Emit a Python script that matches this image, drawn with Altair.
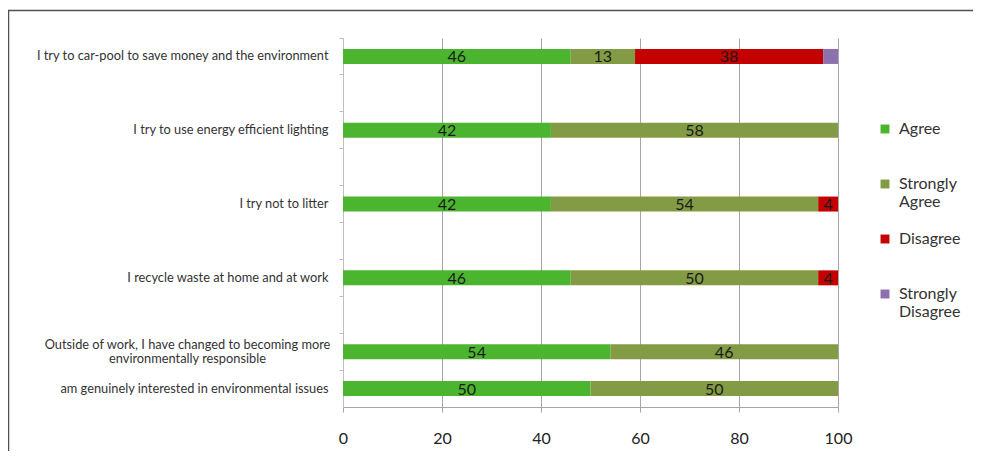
import altair as alt
import pandas as pd

categories = [
    "I try to car-pool to save money and the environment",
    "blank1",
    "I try to use energy efficient lighting",
    "blank2",
    "I try not to litter",
    "blank3",
    "I recycle waste at home and at work",
    "blank4",
    "Outside of work, I have changed to becoming more|environmentally responsible",
    "am genuinely interested in environmental issues",
]
responses = ["Agree", "Strongly Agree", "Disagree", "Strongly Disagree"]
agree = [46, 0, 42, 0, 42, 0, 46, 0, 54, 50]
strongly_agree = [13, 0, 58, 0, 54, 0, 50, 0, 46, 50]
disagree = [38, 0, 0, 0, 4, 0, 4, 0, 0, 0]
strongly_disagree = [3, 0, 0, 0, 0, 0, 0, 0, 0, 0]
colors = ["#4BB52F", "#839B45", "#C40000", "#8B71AE"]

series = [agree, strongly_agree, disagree, strongly_disagree]
rows = []
for ci, cat in enumerate(categories):
    for ri, resp in enumerate(responses):
        v = series[ri][ci]
        if v:
            rows.append({"category": cat, "response": resp, "order": ri, "value": v})
df = pd.DataFrame(rows)

W, H = 495, 369

base = alt.Chart(df).transform_stack(
    stack="value", groupby=["category"], as_=["x0", "x1"],
    sort=[alt.SortField("order", order="ascending")],
)

yscale = alt.Scale(domain=categories, paddingInner=0, paddingOuter=0)

label_expr = (
    "indexof(datum.label, 'blank') == 0 ? '' : "
    "(indexof(datum.label, '|') > 0 ? split(datum.label, '|') : datum.label)"
)
multi = "indexof(datum.value, '|') > 0"

yenc = alt.Y(
    "category:N",
    scale=yscale,
    axis=alt.Axis(
        title=None,
        labelExpr=label_expr,
        bandPosition=0,
        tickSize=4,
        tickColor="#BFBFBF",
        domainColor="#BFBFBF",
        labelFont="Lato",
        labelFontSize=12.8,
        labelColor="#333333",
        labelPadding={"condition": {"test": multi, "value": 152}, "value": 11},
        labelAlign={"condition": {"test": multi, "value": "center"}, "value": "right"},
        labelLimit=400,
        labelOffset={"condition": {"test": multi, "value": -7}, "value": 0},
        grid=False,
    ),
)

xscale = alt.Scale(domain=[0, 100], nice=False)

bars = base.mark_bar(height=15).encode(
    x=alt.X(
        "x0:Q",
        scale=xscale,
        axis=alt.Axis(
            title=None,
            values=[0, 20, 40, 60, 80, 100],
            grid=True,
            gridColor="#A6A6A6",
            domainColor="#A6A6A6",
            tickColor="#A6A6A6",
            tickSize=5,
            labelFont="Lato",
            labelFontSize=16,
            labelColor="#222222",
            labelPadding=18,
            labelFlush=False,
        ),
    ),
    x2="x1:Q",
    y=yenc,
    color=alt.Color(
        "response:N",
        scale=alt.Scale(domain=responses, range=colors),
        legend=alt.Legend(
            orient="none",
            legendX=534,
            legendY=83,
            title=None,
            labelExpr="indexof(datum.label, ' ') > 0 ? split(datum.label, ' ') : [datum.label, ' ']",
            symbolType="square",
            symbolSize=80,
            symbolStrokeWidth=0,
            labelFont="Lato",
            labelFontSize=16,
            labelColor="#333333",
            rowPadding=21,
            labelOffset=6,
        ),
    ),
)

labels = base.transform_calculate(
    mid="(datum.x0 + datum.x1) / 2"
).transform_filter("datum.value >= 4").mark_text(
    font="Lato", fontSize=16, color="#1A1A1A", baseline="middle", dy=1
).encode(
    x=alt.X("mid:Q", scale=xscale),
    y=alt.Y("category:N", scale=yscale),
    text=alt.Text("value:Q"),
)

frame_df = pd.DataFrame({"a": [0]})
top_line = alt.Chart(frame_df).mark_rule(color="#505050", strokeWidth=1.5).encode(
    x=alt.value(-336), x2=alt.value(W + 140), y=alt.value(-27.5)
)
left_line = alt.Chart(frame_df).mark_rule(color="#505050", strokeWidth=1.5).encode(
    x=alt.value(-334.5), y=alt.value(-28), y2=alt.value(H + 50)
)

chart = alt.layer(bars, labels, top_line, left_line).properties(
    width=W,
    height=H,
    padding={"left": 335, "top": 30, "right": 135, "bottom": 44},
    autosize=alt.AutoSizeParams(type="none"),
).configure_view(strokeWidth=0)

chart.save("out.html", embed_options={"renderer": "svg", "actions": False})
